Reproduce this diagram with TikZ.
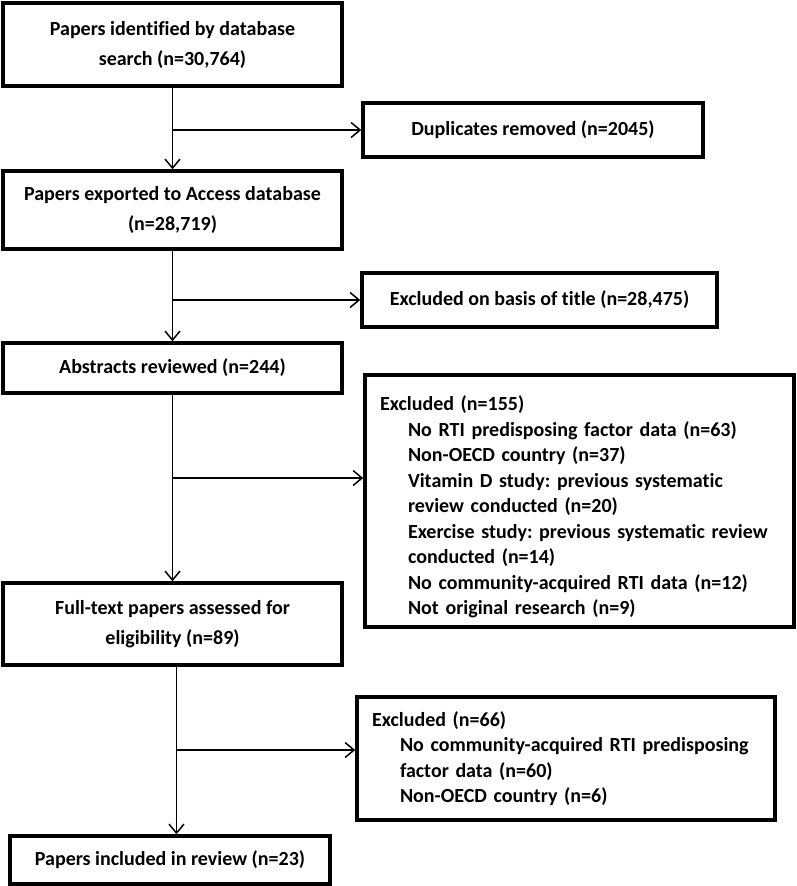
\documentclass[tikz,border=0pt]{standalone}
\usepackage{fontspec}
\setmainfont{Carlito}[Ligatures=NoCommon]
\usetikzlibrary{calc, positioning, arrows.meta}
\newcommand{\exind}{\hspace*{28pt}}
\frenchspacing

\begin{document}
\begin{tikzpicture}[x=1pt, y=-1pt,
	box/.style={draw, line width=3.5pt, align=center, inner sep=0pt, font=\bfseries\fontsize{20}{30}\selectfont},
	exbox/.style={draw, line width=3.5pt, align=left, inner xsep=15pt, inner ysep=0pt, font=\bfseries\fontsize{20}{25.5}\selectfont},
	flow/.style={-{Straight Barb[length=9pt,width=15pt]}, line width=1.5pt}]

		\useasboundingbox (0,0) rectangle (797,886);

		% nodes - main column %
		\node[box, minimum width=339, minimum height=83] (ident) at (172.5,44.5) {Papers identified by database\\search (n=30,764)};
		\node[box, minimum width=339, minimum height=78] (export) at (172.5,210) {Papers exported to Access database\\(n=28,719)};
		\node[box, minimum width=339, minimum height=50] (abstr) at (172.5,368) {Abstracts reviewed (n=244)};
		\node[box, minimum width=339, minimum height=82] (full) at (172.5,624) {Full-text papers assessed for\\eligibility (n=89)};
		\node[box, minimum width=320, minimum height=48] (incl) at (170,860) {Papers included in review (n=23)};

		% nodes - exclusions %
		\node[box, minimum width=340, minimum height=54] (dup) at (533,130) {Duplicates removed (n=2045)};
		\node[box, minimum width=355, minimum height=54] (title) at (539.5,300) {Excluded on basis of title (n=28,475)};
		\node[exbox, text width=399, minimum height=252] (exabs) at (579.5,501) {\rule{0pt}{27pt}Excluded (n=155)\\
			\exind No RTI predisposing factor data (n=63)\\
			\exind Non-OECD country (n=37)\\
			\exind Vitamin D study: previous systematic\\
			\exind review conducted (n=20)\\
			\exind Exercise study: previous systematic review\\
			\exind conducted (n=14)\\
			\exind No community-acquired RTI data (n=12)\\
			\exind Not original research (n=9)};
		\node[exbox, text width=388, minimum height=123] (exfull) at (566,758.5) {Excluded (n=66)\\
			\exind No community-acquired RTI predisposing\\
			\exind factor data (n=60)\\
			\exind Non-OECD country (n=6)};

		% branch points %
		\coordinate (j3) at (172.5,478);
		\coordinate (j4) at (176,750);

		% edges %
		\draw[flow] (ident) -- (export);
		\draw[flow] (ident.south |- dup.west) -- (dup.west);
		\draw[flow] (export) -- (abstr);
		\draw[flow] (export.south |- title.west) -- (title.west);
		\draw[flow] (abstr) -- (full);
		\draw[flow] (j3) -- (j3 -| exabs.west);
		\draw[flow] ([xshift=4pt]full.south) -- ([xshift=4pt]full.south |- incl.north);
		\draw[flow] (j4) -- (j4 -| exfull.west);

\end{tikzpicture}
\end{document}
